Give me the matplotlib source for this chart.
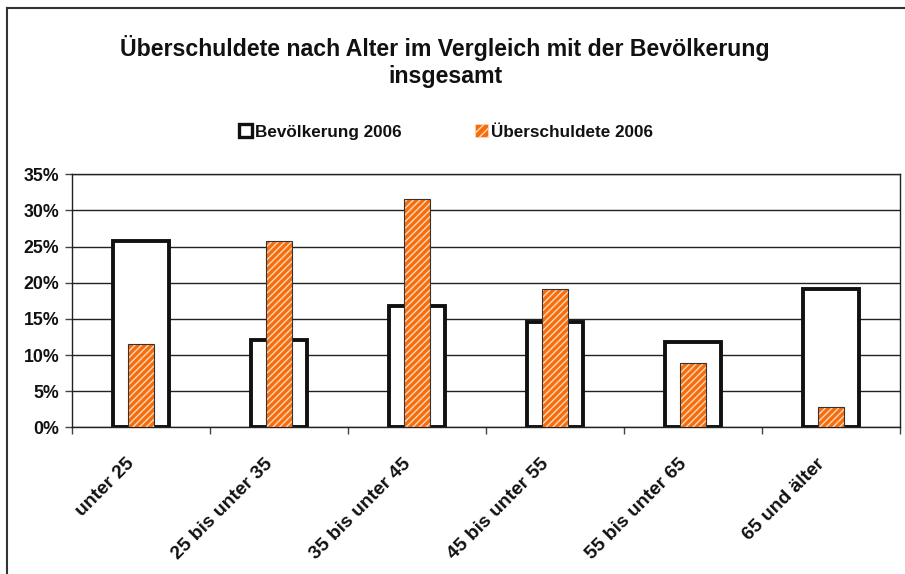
import matplotlib
matplotlib.use("Agg")
import matplotlib.pyplot as plt
from matplotlib.patches import Rectangle
from matplotlib.lines import Line2D
import matplotlib.transforms as mtransforms
import numpy as np

categories = ["unter 25", "25 bis unter 35", "35 bis unter 45",
              "45 bis unter 55", "55 bis unter 65", "65 und älter"]
bevoelkerung = [25.8, 12.1, 16.8, 14.5, 11.8, 19.2]
ueberschuldete = [11.5, 25.8, 31.6, 19.2, 8.9, 2.85]
yticks = [0, 5, 10, 15, 20, 25, 30, 35]
series_names = ["Bevölkerung 2006", "Überschuldete 2006"]
title = "Überschuldete nach Alter im Vergleich mit der Bevölkerung\ninsgesamt"

plt.rcParams['font.family'] = ['Liberation Sans', 'DejaVu Sans']
plt.rcParams['hatch.linewidth'] = 1.0

W, H = 905, 574
fig = plt.figure(figsize=(W / 100, H / 100), dpi=100)
ax = fig.add_axes([72 / W, 1 - 427.3 / H, (900 - 72) / W, (427.3 - 174.3) / H])

x = np.arange(len(categories))
orange = '#F76D0C'

ax.bar(x, bevoelkerung, width=0.40, facecolor='white', edgecolor='#111111',
       linewidth=2.8, zorder=2)
ax.bar(x, ueberschuldete, width=0.19, facecolor=orange, edgecolor='#FFD9BF',
       hatch='/////', linewidth=0, zorder=3)
ax.bar(x, ueberschuldete, width=0.19, fill=False, edgecolor='#333333',
       linewidth=0.8, zorder=4)

ax.set_xlim(-0.5, len(categories) - 0.5)
ax.set_ylim(0, 35)
ax.set_yticks(yticks)
ax.set_yticklabels([f"{v}%" for v in yticks], fontsize=12.8, fontweight='bold',
                   color='#111111')
ax.yaxis.grid(True, color='#222222', linewidth=1.0, zorder=0)
ax.set_axisbelow(True)

ax.set_xticks(x)
ax.set_xticklabels(categories, rotation=45, ha='right', va='top',
                   rotation_mode='anchor', fontsize=13.9, fontweight='bold',
                   color='#111111')
ax.tick_params(axis='x', which='major', length=0, pad=20)
offset = mtransforms.ScaledTranslation(-15 / 100, 0, fig.dpi_scale_trans)
for lab in ax.get_xticklabels():
    lab.set_transform(lab.get_transform() + offset)
ax.set_xticks(np.arange(len(categories) + 1) - 0.5, minor=True)
ax.tick_params(axis='x', which='minor', length=5, width=1, color='#444444')
ax.tick_params(axis='y', length=5, width=1, color='#444444', pad=4)

for s in ax.spines.values():
    s.set_color('#222222')
    s.set_linewidth(1.0)

fig.text(445 / W, 1 - 61.5 / H, title, ha='center', va='center',
         fontsize=16.7, fontweight='bold', linespacing=1.2, color='#111111')

h1 = Rectangle((0, 0), 1, 1, facecolor='white', edgecolor='#111111', linewidth=2.4)
h2 = Rectangle((0, 0), 1, 1, facecolor=orange, edgecolor='#FFD9BF', hatch='////', linewidth=0.5)
leg = fig.legend([h1, h2], series_names, loc='center', ncol=2,
                 bbox_to_anchor=(446 / W, 1 - 132 / H), frameon=False,
                 prop={'weight': 'bold', 'size': 12.3}, handlelength=0.75,
                 handleheight=0.75, handletextpad=0.2, columnspacing=4.3)
for t in leg.get_texts():
    t.set_color('#111111')

# outer chart frame
fig.add_artist(Line2D([7 / W, 7 / W], [0, 1 - 8 / H], transform=fig.transFigure,
                      color='#333333', linewidth=1.5))
fig.add_artist(Line2D([7 / W, 1], [1 - 8 / H, 1 - 8 / H], transform=fig.transFigure,
                      color='#333333', linewidth=1.5))

fig.savefig("out.png", dpi=100)
